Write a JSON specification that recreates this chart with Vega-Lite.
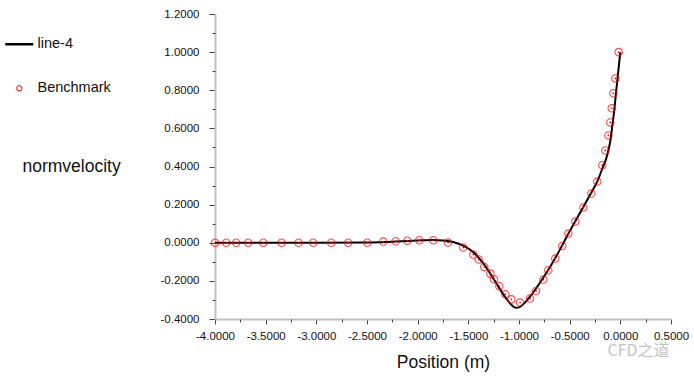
{
  "$schema": "https://vega.github.io/schema/vega-lite/v6.json",
  "width": 456,
  "height": 305,
  "autosize": {"type": "none"},
  "padding": {"left": 215, "top": 14, "right": 23, "bottom": 61},
  "background": "white",
  "config": {
    "view": {"stroke": null},
    "font": "Liberation Sans",
    "locale": {"number": {"decimal": ".", "thousands": ",", "grouping": [3], "currency": ["$", ""], "minus": "-"}}
  },
  "title": {
    "text": "CFD之道",
    "orient": "bottom",
    "anchor": "end",
    "font": "Noto Sans CJK SC",
    "fontSize": 16,
    "fontWeight": "normal",
    "color": "#c4c4c4",
    "offset": -28,
    "dx": -19
  },
  "datasets": {
    "line": [
      {"x": -4.0, "y": 0, "series": "line-4"},
      {"x": -3.0, "y": 0, "series": "line-4"},
      {"x": -2.5, "y": 0.001, "series": "line-4"},
      {"x": -2.3, "y": 0.004, "series": "line-4"},
      {"x": -2.1, "y": 0.009, "series": "line-4"},
      {"x": -1.95, "y": 0.013, "series": "line-4"},
      {"x": -1.85, "y": 0.015, "series": "line-4"},
      {"x": -1.75, "y": 0.012, "series": "line-4"},
      {"x": -1.65, "y": 0.004, "series": "line-4"},
      {"x": -1.55, "y": -0.015, "series": "line-4"},
      {"x": -1.45, "y": -0.05, "series": "line-4"},
      {"x": -1.35, "y": -0.11, "series": "line-4"},
      {"x": -1.25, "y": -0.19, "series": "line-4"},
      {"x": -1.18, "y": -0.25, "series": "line-4"},
      {"x": -1.12, "y": -0.297, "series": "line-4"},
      {"x": -1.07, "y": -0.328, "series": "line-4"},
      {"x": -1.03, "y": -0.341, "series": "line-4"},
      {"x": -0.99, "y": -0.336, "series": "line-4"},
      {"x": -0.94, "y": -0.313, "series": "line-4"},
      {"x": -0.88, "y": -0.275, "series": "line-4"},
      {"x": -0.8, "y": -0.215, "series": "line-4"},
      {"x": -0.7, "y": -0.133, "series": "line-4"},
      {"x": -0.6, "y": -0.04, "series": "line-4"},
      {"x": -0.5, "y": 0.06, "series": "line-4"},
      {"x": -0.4, "y": 0.155, "series": "line-4"},
      {"x": -0.3, "y": 0.25, "series": "line-4"},
      {"x": -0.22, "y": 0.33, "series": "line-4"},
      {"x": -0.17, "y": 0.40, "series": "line-4"},
      {"x": -0.14, "y": 0.44, "series": "line-4"},
      {"x": -0.12, "y": 0.48, "series": "line-4"},
      {"x": -0.10, "y": 0.53, "series": "line-4"},
      {"x": -0.08, "y": 0.61, "series": "line-4"},
      {"x": -0.06, "y": 0.695, "series": "line-4"},
      {"x": -0.04, "y": 0.80, "series": "line-4"},
      {"x": -0.02, "y": 0.90, "series": "line-4"},
      {"x": 0.0, "y": 1.0, "series": "line-4"}
    ],
    "bench": [
      {"x": -4.0, "y": 0, "series": "Benchmark"},
      {"x": -3.889, "y": 0, "series": "Benchmark"},
      {"x": -3.791, "y": 0, "series": "Benchmark"},
      {"x": -3.672, "y": 0, "series": "Benchmark"},
      {"x": -3.524, "y": 0, "series": "Benchmark"},
      {"x": -3.343, "y": 0, "series": "Benchmark"},
      {"x": -3.175, "y": 0, "series": "Benchmark"},
      {"x": -3.031, "y": 0, "series": "Benchmark"},
      {"x": -2.853, "y": 0, "series": "Benchmark"},
      {"x": -2.685, "y": 0, "series": "Benchmark"},
      {"x": -2.498, "y": 0, "series": "Benchmark"},
      {"x": -2.340, "y": 0.006, "series": "Benchmark"},
      {"x": -2.217, "y": 0.008, "series": "Benchmark"},
      {"x": -2.103, "y": 0.011, "series": "Benchmark"},
      {"x": -1.984, "y": 0.013, "series": "Benchmark"},
      {"x": -1.846, "y": 0.013, "series": "Benchmark"},
      {"x": -1.700, "y": 0.001, "series": "Benchmark"},
      {"x": -1.550, "y": -0.025, "series": "Benchmark"},
      {"x": -1.451, "y": -0.062, "series": "Benchmark"},
      {"x": -1.398, "y": -0.088, "series": "Benchmark"},
      {"x": -1.343, "y": -0.127, "series": "Benchmark"},
      {"x": -1.283, "y": -0.162, "series": "Benchmark"},
      {"x": -1.247, "y": -0.192, "series": "Benchmark"},
      {"x": -1.194, "y": -0.228, "series": "Benchmark"},
      {"x": -1.135, "y": -0.270, "series": "Benchmark"},
      {"x": -1.076, "y": -0.297, "series": "Benchmark"},
      {"x": -0.990, "y": -0.314, "series": "Benchmark"},
      {"x": -0.891, "y": -0.293, "series": "Benchmark"},
      {"x": -0.832, "y": -0.253, "series": "Benchmark"},
      {"x": -0.760, "y": -0.193, "series": "Benchmark"},
      {"x": -0.711, "y": -0.144, "series": "Benchmark"},
      {"x": -0.642, "y": -0.083, "series": "Benchmark"},
      {"x": -0.573, "y": -0.017, "series": "Benchmark"},
      {"x": -0.513, "y": 0.048, "series": "Benchmark"},
      {"x": -0.444, "y": 0.111, "series": "Benchmark"},
      {"x": -0.365, "y": 0.185, "series": "Benchmark"},
      {"x": -0.286, "y": 0.258, "series": "Benchmark"},
      {"x": -0.227, "y": 0.321, "series": "Benchmark"},
      {"x": -0.178, "y": 0.407, "series": "Benchmark"},
      {"x": -0.148, "y": 0.484, "series": "Benchmark"},
      {"x": -0.118, "y": 0.563, "series": "Benchmark"},
      {"x": -0.099, "y": 0.631, "series": "Benchmark"},
      {"x": -0.085, "y": 0.705, "series": "Benchmark"},
      {"x": -0.069, "y": 0.784, "series": "Benchmark"},
      {"x": -0.049, "y": 0.862, "series": "Benchmark"},
      {"x": -0.016, "y": 1.0, "series": "Benchmark"}
    ]
  },
  "resolve": {"axis": {"x": "independent", "y": "independent"}},
  "layer": [
    {
      "data": {"name": "line"},
      "mark": {"type": "line", "strokeWidth": 2, "interpolate": "monotone"},
      "encoding": {
        "x": {
          "field": "x", "type": "quantitative",
          "scale": {"domain": [-4, 0.5], "nice": false, "zero": false},
          "axis": {
            "orient": "bottom",
            "values": [-4, -3.5, -3, -2.5, -2, -1.5, -1, -0.5, 0, 0.5],
            "format": ".4f",
            "title": "Position (m)",
            "titleFontSize": 17.5,
            "titleFontWeight": "normal",
            "titleColor": "#111",
            "titlePadding": 12,
            "labelFontSize": 11.5,
            "labelColor": "#111",
            "labelPadding": 6,
            "labelFlush": false,
            "labelOverlap": false,
            "tickSize": 5,
            "tickColor": "#444",
            "domainColor": "#c0c0c0",
            "domainWidth": 2,
            "grid": false
          }
        },
        "y": {
          "field": "y", "type": "quantitative",
          "scale": {"domain": [-0.4, 1.2], "nice": false, "zero": false},
          "axis": {
            "orient": "left",
            "values": [-0.4, -0.2, 0, 0.2, 0.4, 0.6, 0.8, 1.0, 1.2],
            "format": ".4f",
            "title": "normvelocity",
            "titleAngle": 0,
            "titleAlign": "left",
            "titleBaseline": "middle",
            "titleX": -193,
            "titleY": 152,
            "titleFontSize": 17.5,
            "titleFontWeight": "normal",
            "titleColor": "#111",
            "labelFontSize": 11.5,
            "labelColor": "#111",
            "labelPadding": 10,
            "labelFlush": false,
            "labelOverlap": false,
            "tickSize": 6,
            "tickColor": "#444",
            "domainColor": "#c0c0c0",
            "domainWidth": 2,
            "grid": false
          }
        },
        "color": {
          "field": "series", "type": "nominal",
          "scale": {"domain": ["line-4", "Benchmark"], "range": ["black", "red"]},
          "legend": {
            "orient": "none",
            "legendX": -209,
            "legendY": 23,
            "title": null,
            "direction": "vertical",
            "symbolSize": 784,
            "symbolOffset": 6,
            "rowPadding": 29,
            "labelOffset": 11,
            "labelFontSize": 14.5,
            "labelColor": "#111",
            "padding": 0,
            "encode": {
              "symbols": {
                "update": {
                  "shape": {"signal": "datum.value === 'line-4' ? 'stroke' : 'circle'"},
                  "size": {"signal": "datum.value === 'line-4' ? 784 : 28"},
                  "strokeWidth": {"signal": "datum.value === 'line-4' ? 2.5 : 1"},
                  "stroke": {"signal": "datum.value === 'line-4' ? 'black' : 'red'"},
                  "fill": {"value": "transparent"},
                  "fillOpacity": {"value": 0}
                }
              }
            }
          }
        }
      }
    },
    {
      "data": {"name": "bench"},
      "mark": {"type": "point", "shape": "circle", "filled": false, "size": 55, "strokeWidth": 1.1},
      "encoding": {
        "x": {
          "field": "x", "type": "quantitative",
          "scale": {"domain": [-4, 0.5], "nice": false, "zero": false},
          "axis": {
            "orient": "bottom",
            "values": [-3.75, -3.25, -2.75, -2.25, -1.75, -1.25, -0.75, -0.25, 0.25],
            "labels": false, "domain": false, "grid": false, "title": null,
            "tickSize": 3, "tickColor": "#444"
          }
        },
        "y": {
          "field": "y", "type": "quantitative",
          "scale": {"domain": [-0.4, 1.2], "nice": false, "zero": false},
          "axis": {
            "orient": "left",
            "values": [-0.3, -0.1, 0.1, 0.3, 0.5, 0.7, 0.9, 1.1],
            "labels": false, "domain": false, "grid": false, "title": null,
            "tickSize": 3, "tickColor": "#444"
          }
        },
        "color": {"field": "series", "type": "nominal", "legend": null}
      }
    },
    {
      "data": {"name": "bench"},
      "mark": {"type": "point", "shape": "circle", "filled": true, "size": 3, "opacity": 1},
      "encoding": {
        "x": {"field": "x", "type": "quantitative", "axis": null},
        "y": {"field": "y", "type": "quantitative", "axis": null},
        "color": {"field": "series", "type": "nominal", "legend": null}
      }
    }
  ]
}
